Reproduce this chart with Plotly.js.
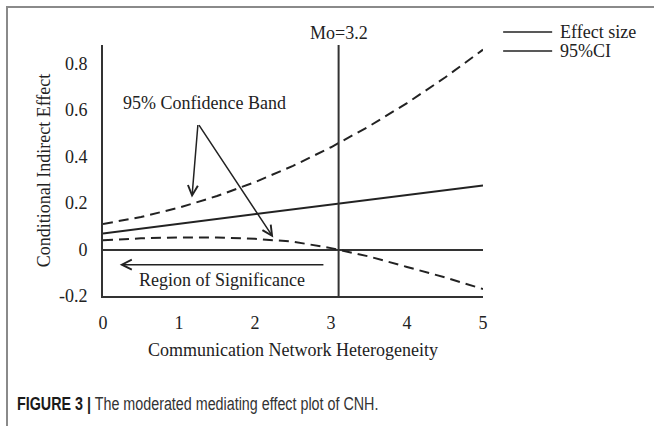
<!DOCTYPE html>
<html>
<head>
<meta charset="utf-8">
<script src="https://cdn.plot.ly/plotly-3.0.1.min.js"></script>
<style>
html,body{margin:0;padding:0;background:#fff;}
#wrap{position:relative;width:654px;height:426px;overflow:hidden;}
#chart{position:absolute;left:0;top:0;width:654px;height:426px;}
#frame{position:absolute;left:6px;top:6px;width:660px;height:440px;border-top:2px solid #8a8a8a;border-left:2px solid #8a8a8a;box-sizing:border-box;pointer-events:none;}
#caption{position:absolute;left:17px;top:394px;font-family:"Liberation Sans",Arial,sans-serif;font-size:18px;color:#333;white-space:nowrap;transform:scaleX(0.795);transform-origin:0 50%;}
#caption b{color:#1a1a1a;}
</style>
</head>
<body>
<div id="wrap">
<div id="chart"></div>
<div id="frame"></div>
<div id="caption"><b>FIGURE 3 |</b> The moderated mediating effect plot of CNH.</div>
</div>
<script>
// Data
var xVals = [0, 0.5, 1, 1.5, 2, 2.5, 3, 3.5, 4, 4.5, 5];
var effectSize = [0.069, 0.090, 0.110, 0.131, 0.152, 0.173, 0.193, 0.214, 0.235, 0.255, 0.276];
var upperCI = [0.11, 0.14, 0.18, 0.23, 0.29, 0.36, 0.44, 0.53, 0.63, 0.74, 0.86];
var lowerCI = [0.04, 0.048, 0.052, 0.052, 0.046, 0.034, 0.006, -0.03, -0.075, -0.12, -0.17];
var moValue = 3.1;
var moLabel = "Mo=3.2";
var yTickVals = [0.8, 0.6, 0.4, 0.2, 0, -0.2];
var yTickText = ["0.8", "0.6", "0.4", "0.2", "0", "-0.2"];
var xTickVals = [0, 1, 2, 3, 4, 5];
var xTickText = ["0", "1", "2", "3", "4", "5"];
var legendNames = ["Effect size", "95%CI"];

var serif = '"Liberation Serif","Times New Roman",serif';
var ink = '#222';

var traces = [
  {x: xVals, y: upperCI, mode: 'lines', line: {color: ink, width: 2, dash: '10px,6px'}, showlegend: false, hoverinfo: 'skip'},
  {x: xVals, y: lowerCI, mode: 'lines', line: {color: ink, width: 2, dash: '10px,6px'}, showlegend: false, hoverinfo: 'skip'},
  {x: xVals, y: effectSize, mode: 'lines', line: {color: ink, width: 2}, showlegend: false, hoverinfo: 'skip'},
  {x: [moValue, moValue], y: [-0.2, 0.88], mode: 'lines', line: {color: '#333', width: 2}, showlegend: false, hoverinfo: 'skip'}
];

var legendY = [1.052, 0.976];

var layout = {
  width: 654, height: 426,
  margin: {l: 103, r: 171, t: 45, b: 130},
  paper_bgcolor: 'rgba(0,0,0,0)', plot_bgcolor: 'rgba(0,0,0,0)',
  font: {family: serif, size: 18, color: ink},
  showlegend: false,
  xaxis: {
    range: [0, 5], showgrid: false, zeroline: false,
    showline: true, linecolor: '#333', linewidth: 2,
    tickmode: 'array', tickvals: xTickVals, ticktext: xTickText,
    ticks: '', ticklabelstandoff: 9,
    tickfont: {family: serif, size: 18, color: ink},
    title: {text: 'Communication Network Heterogeneity', font: {family: serif, size: 18, color: ink}, standoff: 12}
  },
  yaxis: {
    range: [-0.2, 0.88], showgrid: false,
    zeroline: true, zerolinecolor: '#333', zerolinewidth: 2,
    showline: true, linecolor: '#333', linewidth: 2,
    tickmode: 'array', tickvals: yTickVals, ticktext: yTickText,
    ticks: '', ticklabelstandoff: 10,
    tickfont: {family: serif, size: 18, color: ink},
    title: {text: 'Conditional Indirect Effect', font: {family: serif, size: 18, color: ink}, standoff: 4}
  },
  annotations: [
    {x: moValue, y: 1, xref: 'x', yref: 'paper', yanchor: 'bottom', text: moLabel, showarrow: false, yshift: 0, font: {family: serif, size: 18, color: ink}},
    {x: 1.33, y: 0.63, xref: 'x', yref: 'y', text: '95% Confidence Band', showarrow: false, font: {family: serif, size: 18, color: ink}},
    {x: 1.17, y: 0.224, ax: 1.25, ay: 0.542, xref: 'x', yref: 'y', axref: 'x', ayref: 'y', text: '', showarrow: true, arrowhead: 5, arrowsize: 1.3, arrowwidth: 1.5, arrowcolor: ink},
    {x: 2.24, y: 0.052, ax: 1.25, ay: 0.542, xref: 'x', yref: 'y', axref: 'x', ayref: 'y', text: '', showarrow: true, arrowhead: 5, arrowsize: 1.3, arrowwidth: 1.5, arrowcolor: ink},
    {x: 0.22, y: -0.065, ax: 2.92, ay: -0.065, xref: 'x', yref: 'y', axref: 'x', ayref: 'y', text: '', showarrow: true, arrowhead: 5, arrowsize: 1.3, arrowwidth: 1.5, arrowcolor: ink},
    {x: 1.56, y: -0.129, xref: 'x', yref: 'y', text: 'Region of Significance', showarrow: false, font: {family: serif, size: 18, color: ink}},
    {x: 1.197, y: legendY[0], xref: 'paper', yref: 'paper', xanchor: 'left', yanchor: 'middle', text: legendNames[0], showarrow: false, font: {family: serif, size: 18, color: ink}},
    {x: 1.197, y: legendY[1], xref: 'paper', yref: 'paper', xanchor: 'left', yanchor: 'middle', text: legendNames[1], showarrow: false, font: {family: serif, size: 18, color: ink}}
  ],
  shapes: [
    {type: 'line', xref: 'paper', yref: 'paper', x0: 1.053, x1: 1.182, y0: legendY[0], y1: legendY[0], line: {color: ink, width: 1.5}},
    {type: 'line', xref: 'paper', yref: 'paper', x0: 1.053, x1: 1.182, y0: legendY[1], y1: legendY[1], line: {color: ink, width: 1.5}}
  ]
};

Plotly.newPlot('chart', traces, layout, {displayModeBar: false, staticPlot: true});
</script>
</body>
</html>
